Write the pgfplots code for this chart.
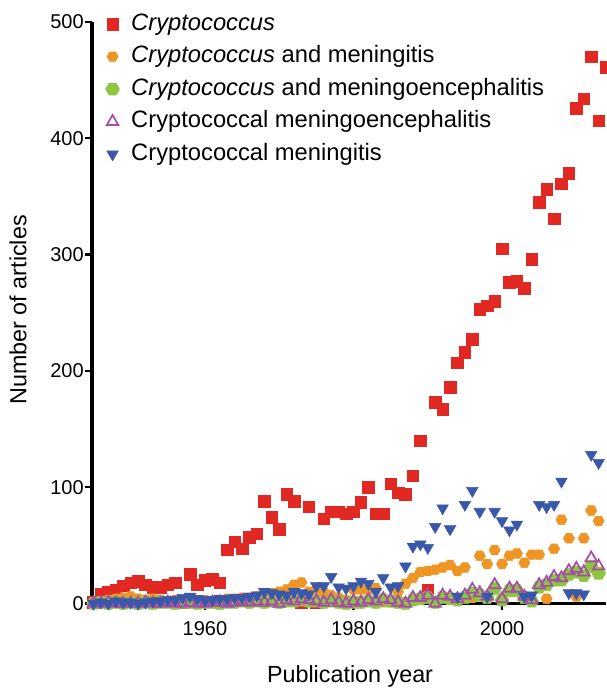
\documentclass[border=0pt]{standalone}
\usepackage{fontspec}
\setmainfont{Liberation Sans}
\usepackage{pgfplots}
\usepackage{pgfplotstable}
\pgfplotsset{compat=1.18}
\definecolor{cred}{RGB}{226,40,35}
\definecolor{corange}{RGB}{239,149,36}
\definecolor{cgreen}{RGB}{140,198,63}
\definecolor{cpurple}{RGB}{168,76,172}
\definecolor{cblue}{RGB}{58,88,170}
\pgfdeclareplotmark{hexagon*}{%
  \pgfpathmoveto{\pgfpointpolar{0}{\pgfplotmarksize}}%
  \pgfpathlineto{\pgfpointpolar{60}{\pgfplotmarksize}}%
  \pgfpathlineto{\pgfpointpolar{120}{\pgfplotmarksize}}%
  \pgfpathlineto{\pgfpointpolar{180}{\pgfplotmarksize}}%
  \pgfpathlineto{\pgfpointpolar{240}{\pgfplotmarksize}}%
  \pgfpathlineto{\pgfpointpolar{300}{\pgfplotmarksize}}%
  \pgfpathclose
  \pgfusepathqfillstroke}
\pgfplotstableread{
year red orange green purple blue
1945 1 0 0 0 0
1946 8 2 1 0 1
1947 10 3 0 1 0
1948 12 4 1 0 2
1949 15 5 0 0 1
1950 18 6 1 0 1
1951 19 4 0 0 0
1952 16 3 1 1 1
1953 14 4 0 0 2
1954 14 3 1 0 2
1955 16 2 1 1 3
1956 18 3 0 0 3
1957 1 2 1 0 5
1958 25 2 1 1 6
1959 16 3 0 0 4
1960 20 3 1 0 3
1961 21 2 1 1 3
1962 18 3 0 1 4
1963 46 4 1 0 4
1964 53 4 1 1 5
1965 47 5 2 2 5
1966 57 5 1 1 6
1967 60 6 2 2 7
1968 88 7 1 1 10
1969 74 9 2 2 9
1970 64 10 1 0 8
1971 94 12 2 3 7
1972 88 16 2 2 10
1973 1 18 3 4 9
1974 83 10 2 3 8
1975 1 12 2 2 15
1976 73 10 1 1 15
1977 79 7 2 3 23
1978 79 5 1 1 14
1979 77 3 0 0 13
1980 79 12 1 2 15
1981 87 12 1 1 19
1982 100 12 2 3 17
1983 77 13 1 2 10
1984 77 1 3 4 22
1985 103 1 2 3 14
1986 95 10 1 1 15
1987 94 17 0 0 32
1988 110 22 3 5 49
1989 140 27 4 5 51
1990 12 28 5 7 48
1991 173 29 1 0 66
1992 167 31 5 7 82
1993 186 33 4 6 64
1994 207 28 3 4 6
1995 216 31 5 7 85
1996 227 5 9 12 97
1997 253 41 7 9 79
1998 256 34 5 6 6
1999 260 46 13 16 79
2000 305 34 3 4 71
2001 276 41 11 13 63
2002 277 43 11 13 68
2003 271 35 5 6 6
2004 296 42 2 3 7
2005 345 42 14 16 85
2006 356 4 16 18 83
2007 331 47 20 23 85
2008 361 72 20 22 105
2009 370 56 25 28 9
2010 426 6 27 30 9
2011 434 56 24 27 8
2012 470 80 32 39 128
2013 415 71 26 32 121
2014 461 nan nan nan nan
}\datatable
\begin{document}
\begin{tikzpicture}
\begin{axis}[
  scale only axis,
  width=385.5pt, height=436.1pt,
  xmin=1944.8, xmax=2014.0,
  ymin=0, ymax=500,
  clip=false,
  axis lines=left,
  axis line style={line width=2.3pt, -},
  major tick style={line width=1.8pt, black},
  major tick length=5pt,
  tick align=outside,
  xtick={1960,1980,2000},
  xticklabels={1960,1980,2000},
  ytick={0,100,200,300,400,500},
  yticklabels={0,100,200,300,400,500},
  tick label style={font=\fontsize{15}{18}\selectfont},
  yticklabel style={inner sep=1pt},
  xticklabel style={yshift=-5pt},
  xlabel={Publication year},
  ylabel={Number of articles},
  label style={font=\fontsize{17.5}{21}\selectfont},
  xlabel style={at={(axis description cs:0.502,-0.126)}, anchor=center},
  ylabel style={at={(axis description cs:-0.144,0.505)}, anchor=center},
  legend cell align=left,
  legend style={at={(rel axis cs:0.026,1.0155)}, anchor=north west, draw=none, fill=none,
    inner sep=0pt, column sep=8.8pt, row sep=8.1pt,
    font=\fontsize{17.8}{21}\selectfont,
    nodes={inner sep=0pt, text height=12.6pt, text depth=3.7pt}},
]
\addlegendimage{only marks, mark=square*, mark size=4.3pt, color=cred}
\addlegendentry{\textit{Cryptococcus}}
\addlegendimage{only marks, mark=hexagon*, mark size=4.2pt, color=corange}
\addlegendentry{\textit{Cryptococcus} and meningitis}
\addlegendimage{only marks, mark=hexagon*, mark size=5.2pt, color=cgreen}
\addlegendentry{\textit{Cryptococcus} and meningoencephalitis}
\addlegendimage{only marks, mark=triangle, mark size=5pt, color=cpurple, mark options={line width=1.3pt, fill=white}}
\addlegendentry{Cryptococcal meningoencephalitis}
\addlegendimage{only marks, mark=triangle*, mark size=5pt, color=cblue, mark options={rotate=180}}
\addlegendentry{Cryptococcal meningitis}

\addplot[forget plot, only marks, mark=square*, mark size=4.3pt, color=cred] table[x=year, y=red] {\datatable};
\addplot[forget plot, only marks, mark=hexagon*, mark size=4.2pt, color=corange] table[x=year, y=orange] {\datatable};
\addplot[forget plot, only marks, mark=hexagon*, mark size=5.2pt, color=cgreen] table[x=year, y=green] {\datatable};
\addplot[forget plot, only marks, mark=triangle, mark size=5pt, color=cpurple, mark options={line width=1.3pt, fill=white}] table[x=year, y=purple] {\datatable};
\addplot[forget plot, only marks, mark=triangle*, mark size=5pt, color=cblue, mark options={rotate=180}] table[x=year, y=blue] {\datatable};

\coordinate (BL) at (rel axis cs:-0.179,-0.1488);
\coordinate (TR) at (rel axis cs:1,1.0378);
\end{axis}
\pgfresetboundingbox
\path[use as bounding box] (BL) rectangle (TR);
\end{tikzpicture}
\end{document}
